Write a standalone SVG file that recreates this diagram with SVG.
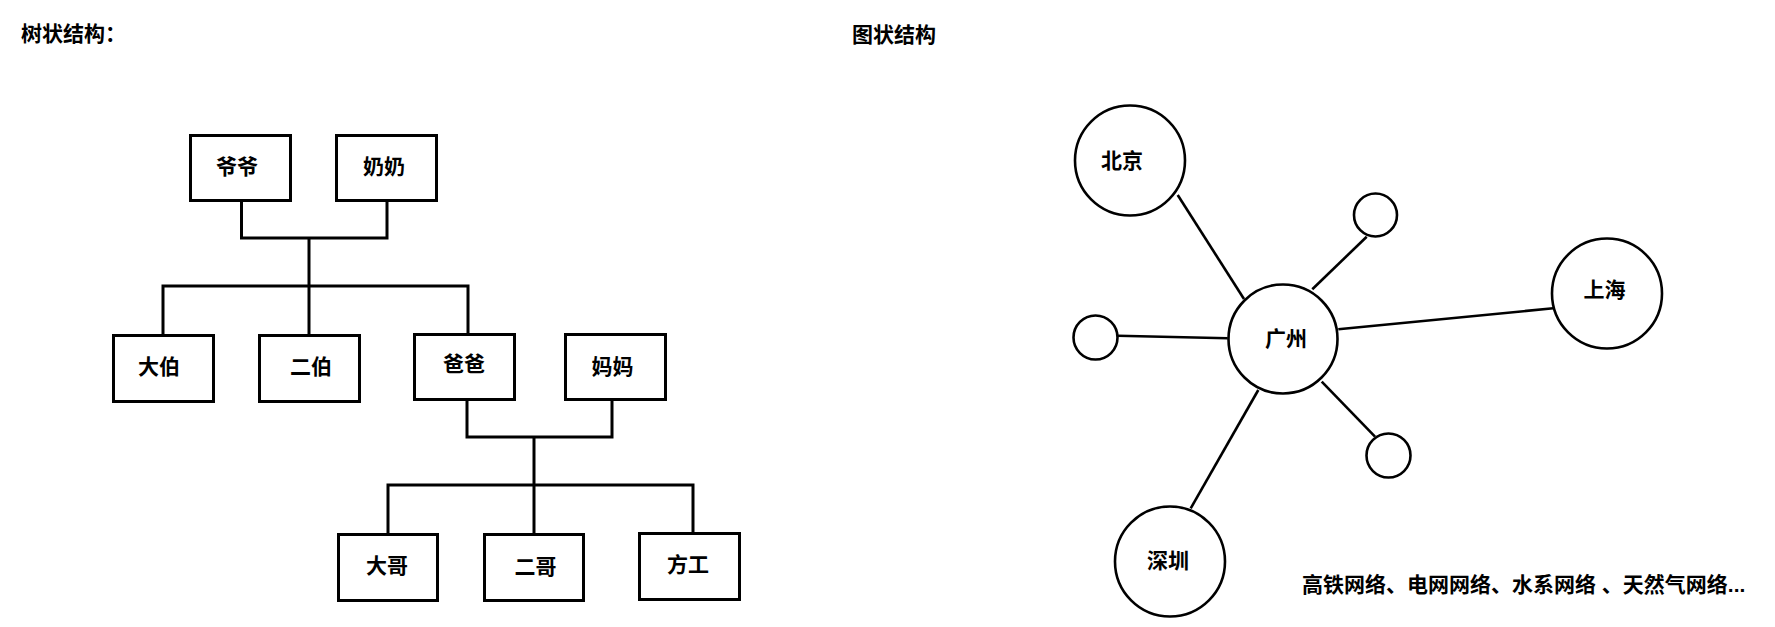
<svg xmlns="http://www.w3.org/2000/svg" width="1775" height="627" viewBox="0 0 1775 627">
<style>
text{font-family:"Liberation Sans","Noto Sans CJK SC",sans-serif;font-weight:bold;font-size:21px;fill:#000}
.lbl{text-anchor:middle}
.box{fill:#fff;stroke:#000;stroke-width:3}
.node{fill:#fff;stroke:#000;stroke-width:2.6}
.tree{fill:none;stroke:#000;stroke-width:3}
.edge{fill:none;stroke:#000;stroke-width:2.6}
</style>
<rect width="1775" height="627" fill="#fff"/>
<text x="21" y="40.5">树状结构：</text>
<text x="852" y="41.5">图状结构</text>

<g id="tree-connectors">
<polyline class="tree" points="241.5,202 241.5,238 387,238 387,202"/>
<path class="tree" d="M309,238 V334"/>
<path class="tree" d="M163,334 V286 H468 V333"/>
<polyline class="tree" points="467,401 467,437 612,437 612,401"/>
<path class="tree" d="M534,437 V533"/>
<path class="tree" d="M388,533 V485 H693 V532"/>
</g>

<g id="yeye"><rect class="box" x="190.5" y="135.5" width="100" height="65"/><text class="lbl" x="237" y="174">爷爷</text></g>
<g id="nainai"><rect class="box" x="336.5" y="135.5" width="100" height="65"/><text class="lbl" x="384" y="174">奶奶</text></g>
<g id="dabo"><rect class="box" x="113.5" y="335.5" width="100" height="66"/><text class="lbl" x="159" y="373.5">大伯</text></g>
<g id="erbo"><rect class="box" x="259.5" y="335.5" width="100" height="66"/><text class="lbl" x="311" y="373.5">二伯</text></g>
<g id="baba"><rect class="box" x="414.5" y="334.5" width="100" height="65"/><text class="lbl" x="464" y="371">爸爸</text></g>
<g id="mama"><rect class="box" x="565.5" y="334.5" width="100" height="65"/><text class="lbl" x="612.5" y="374">妈妈</text></g>
<g id="dage"><rect class="box" x="338.5" y="534.5" width="99" height="66"/><text class="lbl" x="387" y="572.5">大哥</text></g>
<g id="erge"><rect class="box" x="484.5" y="534.5" width="99" height="66"/><text class="lbl" x="535.5" y="573.5">二哥</text></g>
<g id="fanggong"><rect class="box" x="639.5" y="533.5" width="100" height="66"/><text class="lbl" x="688" y="572">方工</text></g>

<g id="graph-connectors">
<line class="edge" x1="1177.7" y1="195" x2="1244" y2="299"/>
<line class="edge" x1="1366.7" y1="236.7" x2="1312.3" y2="289.3"/>
<line class="edge" x1="1338.3" y1="329.3" x2="1553.3" y2="308.3"/>
<line class="edge" x1="1117.7" y1="335.7" x2="1227.7" y2="338.3"/>
<line class="edge" x1="1321.7" y1="381.7" x2="1375" y2="436.7"/>
<line class="edge" x1="1258.3" y1="390" x2="1190.7" y2="508.3"/>
</g>

<g id="beijing"><circle class="node" cx="1130" cy="160.5" r="55"/><text class="lbl" x="1122" y="168">北京</text></g>
<g id="guangzhou"><circle class="node" cx="1283" cy="339" r="54.5"/><text class="lbl" x="1286" y="345.5">广州</text></g>
<g id="shanghai"><circle class="node" cx="1607" cy="293.5" r="55"/><text class="lbl" x="1604.5" y="296.5">上海</text></g>
<g id="shenzhen"><circle class="node" cx="1170" cy="561.5" r="55"/><text class="lbl" x="1168" y="568">深圳</text></g>
<g id="small-top"><circle class="node" cx="1375.5" cy="215" r="21.5"/></g>
<g id="small-left"><circle class="node" cx="1095.5" cy="337.5" r="22"/></g>
<g id="small-bottom"><circle class="node" cx="1388.5" cy="455.5" r="22"/></g>

<text x="1302" y="592">高铁网络、电网网络、水系网络 、天然气网络...</text>
</svg>
